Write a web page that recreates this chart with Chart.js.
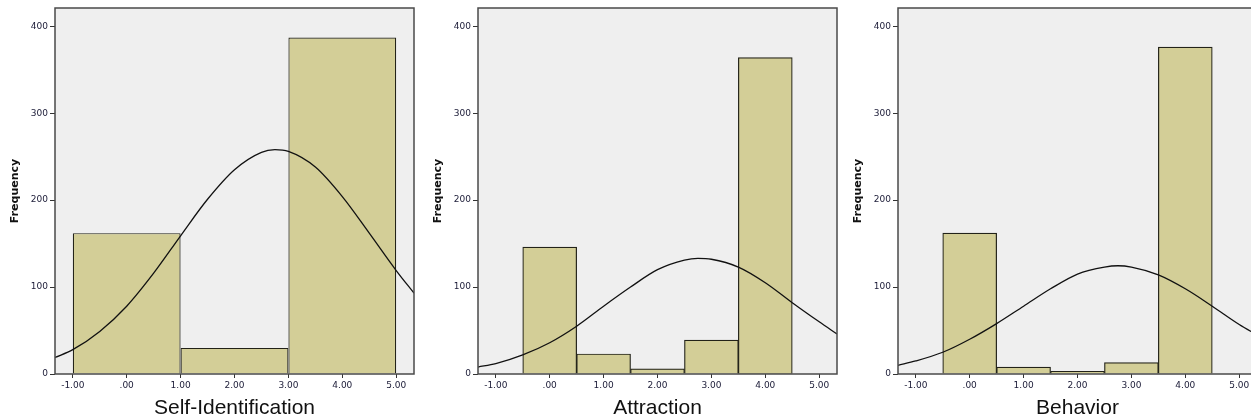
<!DOCTYPE html>
<html>
<head>
<meta charset="utf-8">
<script src="https://cdn.jsdelivr.net/npm/chart.js@4.4.1/dist/chart.umd.min.js"></script>
<style>
  html, body { margin: 0; padding: 0; background: #fff; overflow: hidden; width: 1251px; height: 419px; }
  canvas { position: absolute; top: 0; }
</style>
</head>
<body>
<canvas id="chart-self" width="420" height="419" style="left:-3px"></canvas>
<canvas id="chart-attraction" width="420" height="419" style="left:420px"></canvas>
<canvas id="chart-behavior" width="420" height="419" style="left:840px"></canvas>
<script>
// tick values + labels (SPSS style)
const xTicks = [-1, 0, 1, 2, 3, 4, 5];
const xTickLabels = ['-1.00', '.00', '1.00', '2.00', '3.00', '4.00', '5.00'];
const yTicks = [0, 100, 200, 300, 400];

// histogram bins
const selfCenters = [0, 2, 4];
const selfCounts = [162, 30, 387];
const binCenters = [0, 1, 2, 3, 4];
const attractionCounts = [146, 23, 6, 39, 364];
const behaviorCounts = [162, 8, 3, 13, 376];

// normal curve
const curveX = [-1.33, -1, -0.5, 0, 0.5, 1, 1.5, 2, 2.5, 2.75, 3, 3.5, 4, 4.5, 5, 5.33];
const selfCurve = [19, 28, 49, 78, 116, 159, 201, 235, 255, 258, 256, 238, 204, 162, 119, 93];
const attractionCurve = [8, 12, 22, 36, 55, 78, 100, 120, 131, 133, 132, 123, 105, 82, 60, 46];
const behaviorCurve = [10, 15, 25, 40, 58, 78, 98, 115, 123, 124.5, 123, 114, 98, 78, 57, 45];

const X_MIN = -1.33, X_MAX = 5.33, Y_MAX = 421;

const plotFrame = {
  id: 'plotFrame',
  beforeDraw(chart) {
    const { ctx, chartArea: a } = chart;
    ctx.save();
    ctx.fillStyle = '#efefef';
    ctx.fillRect(a.left, a.top, a.width, a.height);
    ctx.restore();
  },
  afterDatasetsDraw(chart) {
    const { ctx, chartArea: a } = chart;
    ctx.save();
    ctx.strokeStyle = '#4a4a4a';
    ctx.lineWidth = 1.5;
    ctx.strokeRect(a.left, a.top, a.width, a.height);
    ctx.restore();
  }
};

const tickFont = { family: 'DejaVu Sans', size: 9 };

function makeHistogram(canvasId, title, centers, counts, binWidth, curve) {
  return new Chart(document.getElementById(canvasId), {
    type: 'bar',
    data: {
      datasets: [
        {
          type: 'line',
          data: curveX.map((x, i) => ({ x: x, y: curve[i] })),
          borderColor: '#111',
          borderWidth: 1.3,
          pointRadius: 0,
          cubicInterpolationMode: 'monotone',
          order: 0
        },
        {
          type: 'bar',
          data: centers.map((x, i) => ({ x: x, y: counts[i] })),
          backgroundColor: '#d3ce97',
          borderColor: '#222218',
          borderWidth: 1.2,
          categoryPercentage: 1,
          barPercentage: binWidth,
          order: 1
        }
      ]
    },
    options: {
      responsive: false,
      animation: false,
      layout: { padding: { left: 0, right: 3, top: 8, bottom: 0 } },
      plugins: { legend: { display: false }, tooltip: { enabled: false } },
      scales: {
        x: {
          type: 'linear',
          min: X_MIN,
          max: X_MAX,
          offset: false,
          afterBuildTicks: s => { s.ticks = xTicks.map(v => ({ value: v })); },
          afterFit: s => { s.height = 45; },
          border: { display: false },
          grid: { drawOnChartArea: false, offset: false, tickLength: 4, color: '#333' },
          ticks: {
            padding: 2,
            maxRotation: 0,
            autoSkip: false,
            font: tickFont,
            color: '#1a1a36',
            callback: v => xTickLabels[xTicks.indexOf(v)]
          },
          title: {
            display: true,
            text: title,
            color: '#111',
            font: { family: 'Liberation Sans', size: 21, lineHeight: 1 },
            padding: 0
          }
        },
        y: {
          min: 0,
          max: Y_MAX,
          afterBuildTicks: s => { s.ticks = yTicks.map(v => ({ value: v })); },
          afterFit: s => { s.width = 58; },
          border: { display: false },
          grid: { drawOnChartArea: false, tickLength: 5, color: '#333' },
          ticks: { padding: 2, font: tickFont, color: '#1a1a36' },
          title: {
            display: true,
            text: 'Frequency',
            color: '#111',
            font: { family: 'DejaVu Sans', size: 11, weight: 'bold', lineHeight: 1 },
            padding: { top: 12.5, bottom: 0 }
          }
        }
      }
    },
    plugins: [plotFrame]
  });
}

makeHistogram('chart-self', 'Self-Identification', selfCenters, selfCounts, 2, selfCurve);
makeHistogram('chart-attraction', 'Attraction', binCenters, attractionCounts, 1, attractionCurve);
makeHistogram('chart-behavior', 'Behavior', binCenters, behaviorCounts, 1, behaviorCurve);
</script>
</body>
</html>
